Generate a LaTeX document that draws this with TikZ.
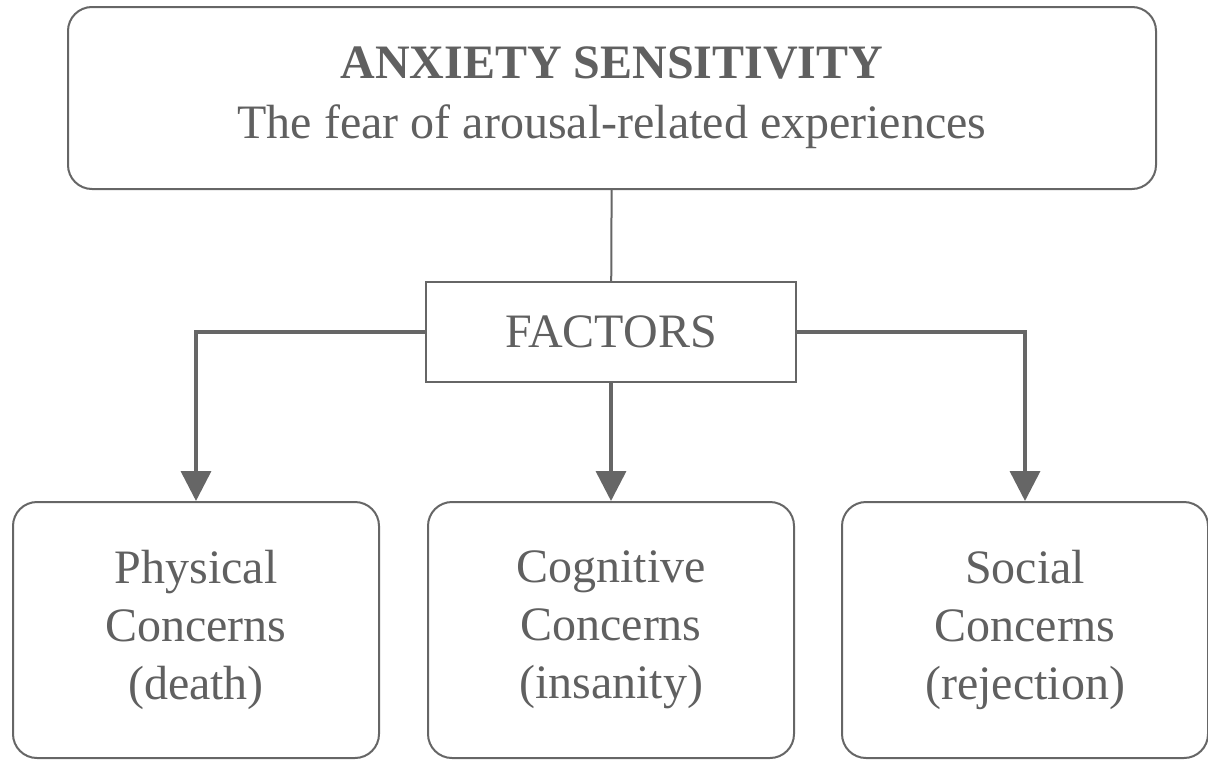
\documentclass[tikz,border=0pt]{standalone}
\usepackage{fontspec}
\setmainfont{Liberation Serif}
\usetikzlibrary{arrows.meta}
\usetikzlibrary{positioning}
\definecolor{linegray}{HTML}{666666}
\definecolor{textgray}{HTML}{606060}
\tikzstyle{titlebox}=[rectangle,rounded corners=12pt,draw=linegray,line width=1pt,text=textgray,align=center,inner sep=0pt,minimum width=544pt,minimum height=91pt,font=\fontsize{24}{30}\selectfont]
\tikzstyle{factorbox}=[rectangle,draw=linegray,line width=1pt,text=textgray,inner sep=0pt,minimum width=185pt,minimum height=50pt,font=\fontsize{24}{30}\selectfont]
\tikzstyle{concern}=[rectangle,rounded corners=12pt,draw=linegray,line width=1pt,text=textgray,align=center,inner sep=0pt,minimum width=183pt,minimum height=128pt,font=\fontsize{24}{29}\selectfont]
\tikzstyle{link}=[draw=linegray,line width=1pt]
\tikzstyle{arrow}=[-{Triangle[width=15pt,length=15pt]},draw=linegray,line width=1.8pt]

\begin{document}
\begin{tikzpicture}[x=0.5pt,y=-0.5pt]
  \useasboundingbox (0,0) rectangle (1208,760);
  \node[titlebox] at (612,98) (as) {\textbf{ANXIETY SENSITIVITY}\\The fear of arousal-related experiences};
  \node[factorbox] at (611,332) (fac) {FACTORS};
  \node[concern] at (196,630) (phys) {Physical\\Concerns\\(death)};
  \node[concern] at (611,630) (cog) {Cognitive\\Concerns\\(insanity)};
  \node[concern] at (1025,630) (soc) {Social\\Concerns\\(rejection)};
  \draw[link] (as) -- (fac);
  \draw[arrow] (fac.west) -| (phys);
  \draw[arrow] (fac) -- (cog);
  \draw[arrow] (fac.east) -| (soc);
\end{tikzpicture}
\end{document}
